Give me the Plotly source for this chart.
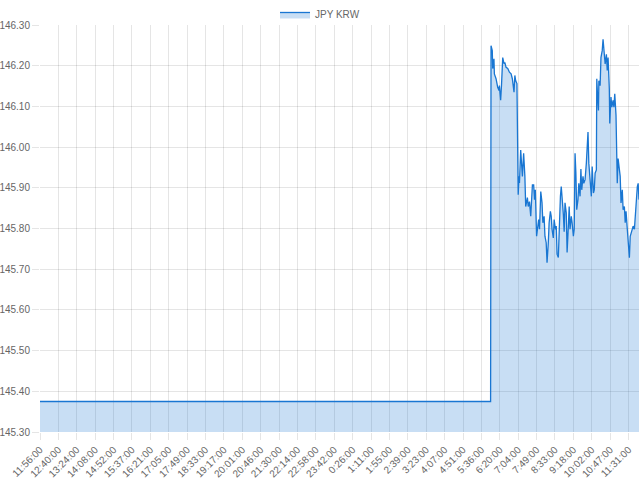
import plotly.graph_objects as go

# ---- data ----
tick_labels = ["11:56:00", "12:40:00", "13:24:00", "14:08:00", "14:52:00", "15:37:00",
               "16:21:00", "17:05:00", "17:49:00", "18:33:00", "19:17:00", "20:01:00",
               "20:46:00", "21:30:00", "22:14:00", "22:58:00", "23:42:00", "0:26:00",
               "1:11:00", "1:55:00", "2:39:00", "3:23:00", "4:07:00", "4:51:00",
               "5:36:00", "6:20:00", "7:04:00", "7:49:00", "8:33:00", "9:18:00",
               "10:02:00", "10:47:00", "11:31:00"]
points_per_label = 44          # one label shown every 44 samples
last_index = 1433              # index of the last sample

flat_value = 145.375           # quiet overnight quote
flat_first, flat_last = 0, 1078

# (sample index, rate) for the active session
active_points = [
    (1079, 146.249), (1082, 146.237), (1083, 146.193), (1086, 146.217), (1087, 146.180),
    (1091, 146.168), (1095, 146.147), (1098, 146.139), (1099, 146.151), (1102, 146.115),
    (1104, 146.151), (1107, 146.220), (1110, 146.205), (1112, 146.208), (1115, 146.196),
    (1119, 146.193), (1123, 146.184), (1127, 146.180), (1130, 146.168), (1131, 146.156),
    (1134, 146.135), (1136, 146.176), (1138, 146.163), (1141, 146.156), (1142, 146.083),
    (1143, 145.961), (1144, 145.883), (1146, 145.928), (1147, 145.912), (1150, 145.993),
    (1152, 145.944), (1154, 145.928), (1157, 145.985), (1160, 145.928), (1162, 145.854),
    (1166, 145.876), (1168, 145.854), (1171, 145.866), (1174, 145.830), (1178, 145.907),
    (1181, 145.907), (1183, 145.871), (1185, 145.895), (1188, 145.781), (1190, 145.798),
    (1193, 145.822), (1195, 145.798), (1198, 145.891), (1201, 145.863), (1203, 145.814),
    (1206, 145.830), (1208, 145.781), (1211, 145.765), (1213, 145.716), (1216, 145.765),
    (1218, 145.814), (1221, 145.842), (1223, 145.830), (1225, 145.798), (1228, 145.777),
    (1230, 145.822), (1233, 145.798), (1235, 145.806), (1237, 145.737), (1240, 145.729),
    (1242, 145.798), (1245, 145.879), (1247, 145.903), (1249, 145.880), (1252, 145.835),
    (1254, 145.792), (1256, 145.863), (1259, 145.838), (1261, 145.741), (1264, 145.806),
    (1266, 145.854), (1268, 145.798), (1271, 145.830), (1273, 145.814), (1276, 145.781),
    (1278, 145.798), (1280, 145.985), (1282, 145.936), (1284, 145.846), (1287, 145.871),
    (1289, 145.911), (1292, 145.879), (1294, 145.946), (1296, 145.895), (1299, 145.928),
    (1301, 145.911), (1304, 145.920), (1307, 145.960), (1309, 146.001), (1311, 146.037),
    (1313, 145.960), (1316, 145.928), (1319, 145.879), (1321, 145.952), (1324, 145.887),
    (1326, 145.895), (1328, 145.936), (1331, 145.944), (1332, 146.168), (1334, 146.123),
    (1336, 146.090), (1337, 146.163), (1340, 146.151), (1342, 146.220), (1344, 146.230),
    (1345, 146.237), (1347, 146.265), (1350, 146.237), (1352, 146.204), (1355, 146.228),
    (1357, 146.188), (1359, 146.220), (1362, 146.143), (1363, 146.058), (1366, 146.123),
    (1368, 146.098), (1371, 146.115), (1373, 146.098), (1375, 146.131), (1378, 146.078),
    (1379, 145.944), (1381, 145.911), (1383, 145.972), (1386, 145.944), (1388, 145.928),
    (1390, 145.863), (1393, 145.895), (1395, 145.846), (1398, 145.854), (1400, 145.814),
    (1402, 145.842), (1405, 145.798), (1407, 145.757), (1410, 145.728), (1412, 145.781),
    (1414, 145.789), (1417, 145.798), (1419, 145.806), (1422, 145.798), (1424, 145.832),
    (1426, 145.863), (1429, 145.903), (1431, 145.911), (1433, 145.871),
]

# ---- build series ----
x = [flat_first, flat_last] + [p[0] for p in active_points]
y = [flat_value, flat_value] + [p[1] for p in active_points]
tick_vals = [i * points_per_label for i in range(len(tick_labels))]

line_color = "rgb(25,118,210)"
fill_color = "rgba(25,118,210,0.24)"
grid_color = "rgba(0,0,0,0.1)"
font_color = "#666666"

fig = go.Figure()
fig.add_trace(go.Scatter(
    x=x, y=y, name="JPY KRW", mode="lines",
    line=dict(color=line_color, width=1.3),
    fill="tozeroy", fillcolor=fill_color,
))

fig.update_layout(
    width=640, height=480,
    margin=dict(l=40, r=1, t=25, b=48, autoexpand=False),
    paper_bgcolor="white", plot_bgcolor="white",
    font=dict(family="Liberation Sans, Arial, sans-serif", size=10, color=font_color),
    showlegend=True,
    legend=dict(orientation="h", x=0.5, xanchor="center", xref="container",
                y=1.0, yanchor="top", yref="container",
                font=dict(size=10, color=font_color),
                itemwidth=30, bgcolor="rgba(0,0,0,0)"),
)

fig.update_xaxes(
    range=[0, last_index], tickmode="array", tickvals=tick_vals, ticktext=tick_labels,
    tickangle=-45, showgrid=True, gridcolor=grid_color, gridwidth=1,
    ticks="outside", ticklen=7, tickcolor=grid_color, zeroline=False,
    showline=False, automargin=False, tickfont=dict(size=10, color=font_color),
)
fig.update_yaxes(
    range=[145.30, 146.30], dtick=0.1, tick0=145.30, tickformat=".2f",
    showgrid=True, gridcolor=grid_color, gridwidth=1,
    ticks="outside", ticklen=7, tickcolor=grid_color, zeroline=False,
    showline=False, automargin=False, tickfont=dict(size=10, color=font_color),
)

fig.write_html(
    "out.html",
    config={"displayModeBar": False},
    post_script="document.body.style.margin='0';document.body.style.overflow='hidden';",
)
